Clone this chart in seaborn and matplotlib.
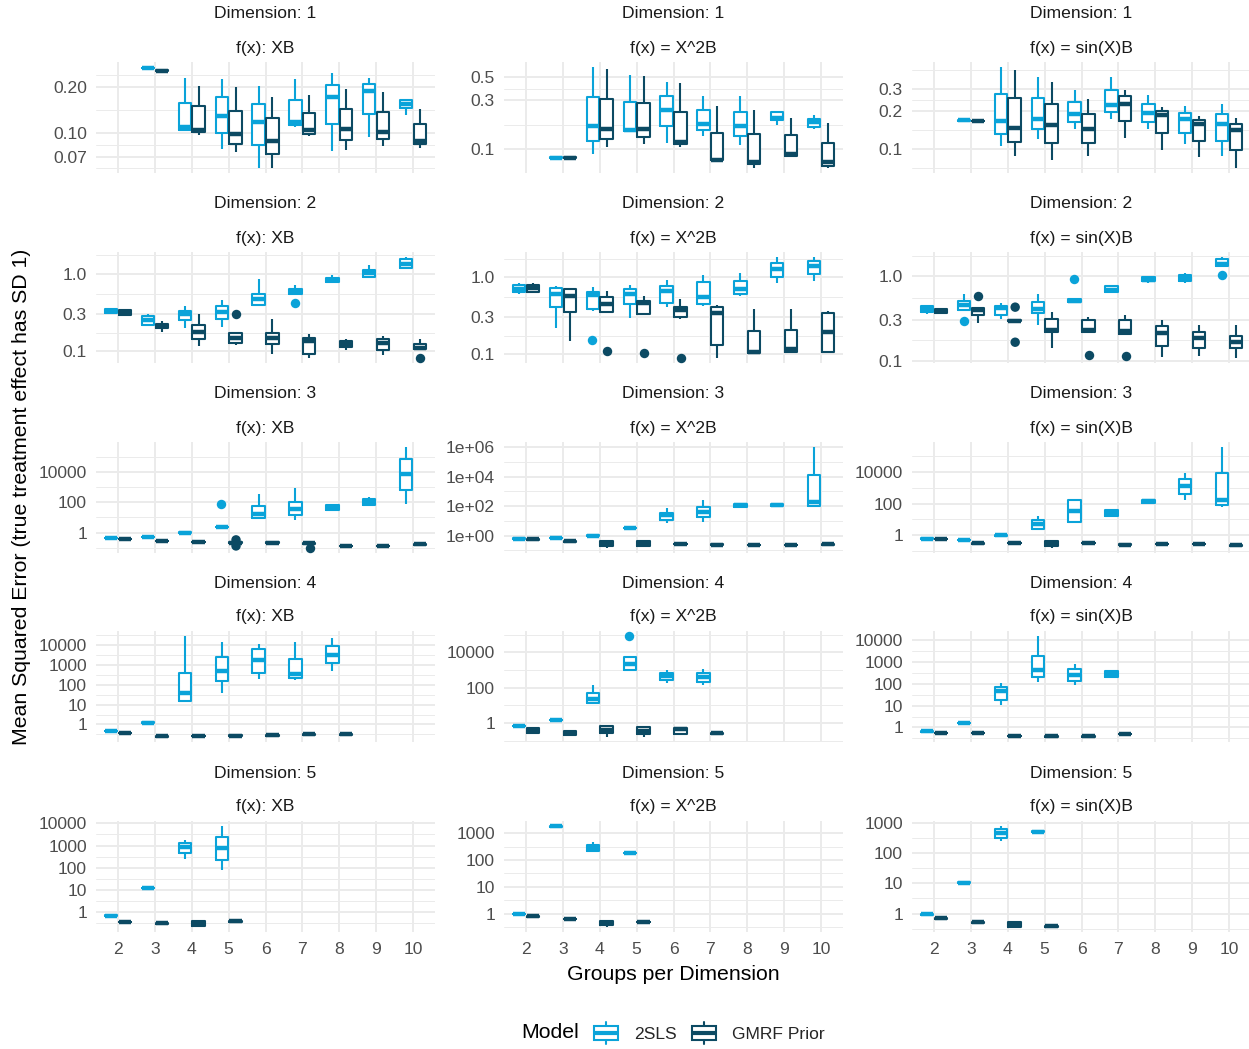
import numpy as np
import pandas as pd
import matplotlib
matplotlib.use("Agg")
import matplotlib.pyplot as plt
from matplotlib.legend_handler import HandlerBase
from matplotlib.patches import Rectangle, Patch
from matplotlib.lines import Line2D
from matplotlib.ticker import NullFormatter
import seaborn as sns

# ---------------------------------------------------------------- data
groups = [2, 3, 4, 5, 6, 7, 8, 9, 10]
group_labels = [str(g) for g in groups]
models = ["2SLS", "GMRF Prior"]
dimensions = [1, 2, 3, 4, 5]
functions = ["f(x): XB", "f(x) = X^2B", "f(x) = sin(X)B"]

# box summaries: group -> (lower whisker, lower hinge, median, upper hinge, upper whisker)
d1_xb_2sls = {3: (0.262, 0.264, 0.265, 0.266, 0.268), 4: (0.104, 0.105, 0.109, 0.156, 0.226),
              5: (0.078, 0.0995, 0.128, 0.170, 0.223), 6: (0.0592, 0.0837, 0.118, 0.154, 0.201),
              7: (0.109, 0.1126, 0.118, 0.164, 0.225), 8: (0.0762, 0.114, 0.172, 0.205, 0.244),
              9: (0.0942, 0.132, 0.1876, 0.207, 0.226), 10: (0.1306, 0.144, 0.155, 0.164, 0.165)}
d1_xb_gmrf = {3: (0.251, 0.253, 0.254, 0.255, 0.257), 4: (0.097, 0.101, 0.1045, 0.1486, 0.202),
              5: (0.0747, 0.085, 0.0985, 0.139, 0.200), 6: (0.059, 0.0732, 0.088, 0.124, 0.172),
              7: (0.0956, 0.098, 0.104, 0.135, 0.176), 8: (0.0777, 0.090, 0.1055, 0.143, 0.194),
              9: (0.082, 0.0915, 0.101, 0.1373, 0.184), 10: (0.0796, 0.085, 0.088, 0.1137, 0.142)}

d1_sq_2sls = {3: (0.082, 0.0825, 0.083, 0.0835, 0.084), 4: (0.0908, 0.1195, 0.167, 0.321, 0.626),
              5: (0.149, 0.149, 0.153, 0.285, 0.528), 6: (0.115, 0.167, 0.242, 0.331, 0.448),
              7: (0.1346, 0.153, 0.177, 0.238, 0.326), 8: (0.109, 0.1336, 0.167, 0.2297, 0.328),
              9: (0.173, 0.191, 0.2025, 0.228, 0.235), 10: (0.156, 0.1645, 0.184, 0.195, 0.213)}
d1_sq_gmrf = {3: (0.082, 0.0825, 0.083, 0.0835, 0.084), 4: (0.105, 0.127, 0.157, 0.309, 0.603),
              5: (0.1118, 0.1316, 0.156, 0.281, 0.513), 6: (0.105, 0.112, 0.118, 0.23, 0.438),
              7: (0.0783, 0.0783, 0.0794, 0.145, 0.263), 8: (0.066, 0.0727, 0.0754, 0.1397, 0.2386),
              9: (0.084, 0.0862, 0.0895, 0.1366, 0.201), 10: (0.066, 0.0685, 0.0754, 0.115, 0.18)}

d1_sin_2sls = {3: (0.168, 0.1685, 0.169, 0.1695, 0.170), 4: (0.106, 0.133, 0.166, 0.271, 0.445),
               5: (0.121, 0.1437, 0.174, 0.255, 0.371), 6: (0.1437, 0.164, 0.19, 0.236, 0.2915),
               7: (0.174, 0.197, 0.225, 0.2915, 0.371), 8: (0.1437, 0.164, 0.1945, 0.226, 0.266),
               9: (0.1095, 0.1353, 0.172, 0.1945, 0.219), 10: (0.088, 0.116, 0.159, 0.191, 0.229)}
d1_sin_gmrf = {3: (0.166, 0.1665, 0.167, 0.1675, 0.168), 4: (0.0886, 0.114, 0.148, 0.254, 0.424),
               5: (0.083, 0.112, 0.1545, 0.229, 0.339), 6: (0.0886, 0.112, 0.1455, 0.1887, 0.2475),
               7: (0.1228, 0.166, 0.229, 0.261, 0.295), 8: (0.098, 0.1345, 0.1875, 0.2, 0.2155),
               9: (0.087, 0.1156, 0.1574, 0.169, 0.183), 10: (0.0713, 0.098, 0.141, 0.1574, 0.1765)}

d2_xb_2sls = {2: (0.298, 0.31, 0.332, 0.353, 0.363), 3: (0.208, 0.215, 0.249, 0.281, 0.304),
              4: (0.2, 0.249, 0.298, 0.329, 0.382), 5: (0.204, 0.262, 0.319, 0.378, 0.452),
              6: (0.382, 0.397, 0.466, 0.541, 0.845), 7: (0.541, 0.541, 0.597, 0.627, 0.707),
              8: (0.765, 0.78, 0.836, 0.888, 0.951), 9: (0.888, 0.906, 1.02, 1.127, 1.307),
              10: (1.18, 1.196, 1.347, 1.549, 1.643)}
d2_xb_gmrf = {2: (0.289, 0.295, 0.316, 0.336, 0.342), 3: (0.176, 0.196, 0.21, 0.226, 0.242),
              4: (0.115, 0.1443, 0.176, 0.215, 0.298), 5: (0.121, 0.127, 0.147, 0.171, 0.176),
              6: (0.092, 0.1244, 0.1487, 0.171, 0.262), 7: (0.0812, 0.092, 0.133, 0.146, 0.164),
              8: (0.102, 0.1127, 0.1244, 0.1347, 0.1415), 9: (0.0879, 0.104, 0.127, 0.1415, 0.155),
              10: (0.105, 0.105, 0.1104, 0.1244, 0.1443)}

d2_sq_2sls = {2: (0.606, 0.637, 0.69, 0.778, 0.835), 3: (0.216, 0.406, 0.606, 0.726, 0.755),
              4: (0.36, 0.386, 0.576, 0.637, 0.741), 5: (0.292, 0.44, 0.606, 0.704, 0.778),
              6: (0.414, 0.463, 0.65, 0.763, 0.905), 7: (0.419, 0.44, 0.548, 0.861, 1.051),
              8: (0.565, 0.606, 0.704, 0.887, 1.139), 9: (0.835, 1.0, 1.284, 1.523, 1.82),
              10: (0.878, 1.084, 1.378, 1.6, 1.82)}
d2_sq_gmrf = {2: (0.617, 0.637, 0.72, 0.786, 0.835), 3: (0.149, 0.35, 0.565, 0.69, 0.72),
              4: (0.35, 0.35, 0.449, 0.548, 0.65), 5: (0.332, 0.332, 0.458, 0.486, 0.565),
              6: (0.286, 0.3, 0.375, 0.414, 0.511), 7: (0.0887, 0.131, 0.339, 0.414, 0.427),
              8: (0.102, 0.102, 0.105, 0.1976, 0.379), 9: (0.105, 0.105, 0.116, 0.2056, 0.379),
              10: (0.105, 0.105, 0.1917, 0.343, 0.367)}

d2_sin_2sls = {2: (0.358, 0.374, 0.41, 0.441, 0.457), 3: (0.402, 0.402, 0.449, 0.505, 0.617),
               4: (0.312, 0.342, 0.417, 0.441, 0.483), 5: (0.265, 0.364, 0.41, 0.492, 0.606),
               6: (0.483, 0.49, 0.51, 0.53, 0.538), 7: (0.635, 0.645, 0.689, 0.754, 0.775),
               8: (0.834, 0.865, 0.905, 0.973, 0.991), 9: (0.826, 0.865, 0.947, 1.018, 1.085),
               10: (1.302, 1.302, 1.4, 1.576, 1.68)}
d2_sin_gmrf = {2: (0.364, 0.367, 0.388, 0.41, 0.414), 3: (0.28, 0.342, 0.399, 0.421, 0.429),
               4: (0.293, 0.295, 0.298, 0.301, 0.303), 5: (0.14, 0.221, 0.231, 0.312, 0.374),
               6: (0.217, 0.217, 0.231, 0.304, 0.326), 7: (0.207, 0.207, 0.227, 0.306, 0.342),
               8: (0.1115, 0.148, 0.211, 0.255, 0.306), 9: (0.1146, 0.1413, 0.184, 0.217, 0.265),
               10: (0.1075, 0.1413, 0.168, 0.1943, 0.265)}

d3_xb_2sls = {2: (0.40, 0.41, 0.42, 0.43, 0.44), 3: (0.49, 0.50, 0.516, 0.53, 0.54),
              4: (0.92, 0.96, 1.0, 1.05, 1.09), 5: (2.2, 2.3, 2.37, 2.45, 2.55),
              6: (9.0, 9.5, 16.0, 53.0, 347.0), 7: (6.9, 14.8, 37.0, 97.5, 870.0),
              8: (27.3, 31.8, 45.4, 68.3, 79.5), 9: (53.0, 68.3, 102.6, 162.0, 209.0),
              10: (75.5, 674.0, 7370.0, 65700.0, 430000.0)}
d3_xb_gmrf = {2: (0.36, 0.37, 0.38, 0.39, 0.40), 3: (0.26, 0.27, 0.28, 0.29, 0.30),
              4: (0.21, 0.22, 0.229, 0.24, 0.25), 5: (0.17, 0.19, 0.206, 0.22, 0.25),
              6: (0.20, 0.21, 0.217, 0.225, 0.235), 7: (0.175, 0.185, 0.196, 0.205, 0.215),
              8: (0.12, 0.125, 0.13, 0.135, 0.14), 9: (0.12, 0.125, 0.13, 0.135, 0.14),
              10: (0.155, 0.16, 0.168, 0.175, 0.18)}

d3_sq_2sls = {2: (0.60, 0.61, 0.627, 0.64, 0.66), 3: (0.66, 0.68, 0.695, 0.71, 0.73),
              4: (0.92, 0.96, 1.0, 1.05, 1.10), 5: (3.0, 3.15, 3.3, 3.45, 3.6),
              6: (7.2, 10.9, 25.0, 34.3, 74.8), 7: (8.4, 17.4, 40.0, 87.4, 274.0),
              8: (75.0, 83.0, 113.0, 147.0, 163.0), 9: (94.0, 97.0, 119.0, 147.0, 155.0),
              10: (83.0, 100.0, 181.0, 13500.0, 1.0e6)}
d3_sq_gmrf = {2: (0.53, 0.54, 0.565, 0.59, 0.60), 3: (0.37, 0.39, 0.413, 0.43, 0.45),
              4: (0.146, 0.21, 0.287, 0.413, 0.42), 5: (0.17, 0.21, 0.318, 0.413, 0.42),
              6: (0.25, 0.26, 0.27, 0.28, 0.29), 7: (0.23, 0.24, 0.246, 0.255, 0.265),
              8: (0.22, 0.227, 0.234, 0.24, 0.25), 9: (0.22, 0.227, 0.234, 0.24, 0.25),
              10: (0.24, 0.25, 0.259, 0.27, 0.28)}

d3_sin_2sls = {2: (0.59, 0.60, 0.614, 0.63, 0.64), 3: (0.48, 0.49, 0.505, 0.52, 0.53),
               4: (0.93, 0.96, 1.0, 1.04, 1.07), 5: (2.65, 2.65, 5.24, 8.96, 16.1),
               6: (6.7, 6.7, 36.8, 167.0, 203.0), 7: (14.6, 16.1, 26.2, 38.7, 49.3),
               8: (113.0, 118.0, 140.0, 170.0, 184.0), 9: (184.0, 421.0, 1291.0, 3775.0, 9080.0),
               10: (60.0, 88.5, 180.0, 9080.0, 387000.0)}
d3_sin_gmrf = {2: (0.55, 0.57, 0.585, 0.60, 0.62), 3: (0.29, 0.30, 0.31, 0.32, 0.33),
               4: (0.30, 0.31, 0.326, 0.34, 0.35), 5: (0.157, 0.22, 0.326, 0.416, 0.42),
               6: (0.30, 0.31, 0.326, 0.34, 0.35), 7: (0.235, 0.245, 0.255, 0.265, 0.275),
               8: (0.26, 0.27, 0.28, 0.29, 0.30), 9: (0.26, 0.27, 0.28, 0.29, 0.30),
               10: (0.20, 0.215, 0.232, 0.245, 0.26)}

d4_xb_2sls = {2: (0.44, 0.46, 0.476, 0.49, 0.51), 3: (1.13, 1.17, 1.215, 1.26, 1.30),
              4: (13.1, 15.4, 40.0, 392.0, 28700.0), 5: (40.7, 160.0, 515.0, 2454.0, 14700.0),
              6: (194.0, 392.0, 1866.0, 6025.0, 11700.0), 7: (180.0, 218.0, 363.0, 2019.0, 14700.0),
              8: (515.0, 1261.0, 3352.0, 8890.0, 23600.0)}
d4_xb_gmrf = {2: (0.35, 0.36, 0.377, 0.39, 0.40), 3: (0.235, 0.245, 0.255, 0.265, 0.275),
              4: (0.245, 0.255, 0.265, 0.275, 0.285), 5: (0.255, 0.265, 0.276, 0.285, 0.295),
              6: (0.265, 0.275, 0.287, 0.30, 0.31), 7: (0.30, 0.31, 0.32, 0.33, 0.34),
              8: (0.30, 0.31, 0.32, 0.33, 0.34)}

d4_sq_2sls = {2: (0.63, 0.65, 0.679, 0.70, 0.72), 3: (1.38, 1.42, 1.47, 1.52, 1.56),
              4: (12.1, 13.8, 24.2, 50.3, 147.0), 5: (898.0, 1023.0, 2124.0, 5245.0, 5700.0),
              6: (183.0, 281.0, 432.0, 664.0, 1023.0), 7: (147.0, 208.0, 380.0, 664.0, 1114.0)}
d4_sq_gmrf = {2: (0.232, 0.263, 0.388, 0.502, 0.547), 3: (0.187, 0.203, 0.287, 0.356, 0.37),
              4: (0.171, 0.263, 0.388, 0.679, 0.74), 5: (0.164, 0.252, 0.356, 0.623, 0.679),
              6: (0.203, 0.252, 0.44, 0.547, 0.597), 7: (0.245, 0.253, 0.263, 0.273, 0.283)}

d4_sin_2sls = {2: (0.62, 0.635, 0.654, 0.67, 0.69), 3: (1.50, 1.54, 1.585, 1.63, 1.67),
               4: (11.1, 18.9, 45.0, 70.2, 111.0), 5: (124.0, 210.0, 457.0, 1892.0, 15800.0),
               6: (86.8, 133.0, 270.0, 492.0, 837.0), 7: (189.0, 210.0, 289.0, 384.0, 412.0)}
d4_sin_gmrf = {2: (0.52, 0.535, 0.548, 0.56, 0.575), 3: (0.52, 0.535, 0.548, 0.56, 0.575),
               4: (0.39, 0.40, 0.413, 0.425, 0.435), 5: (0.365, 0.375, 0.384, 0.395, 0.405),
               6: (0.365, 0.375, 0.384, 0.395, 0.405), 7: (0.465, 0.48, 0.492, 0.505, 0.52)}

d5_xb_2sls = {2: (0.65, 0.67, 0.684, 0.70, 0.72), 3: (11.4, 11.7, 12.0, 12.3, 12.6),
              4: (249.0, 481.0, 865.0, 1352.0, 1782.0), 5: (80.0, 225.0, 806.0, 2515.0, 7590.0)}
d5_xb_gmrf = {2: (0.335, 0.345, 0.355, 0.365, 0.375), 3: (0.295, 0.30, 0.31, 0.32, 0.325),
              4: (0.21, 0.243, 0.32, 0.408, 0.45), 5: (0.36, 0.37, 0.38, 0.39, 0.40)}

d5_sq_2sls = {2: (0.93, 0.95, 0.97, 0.99, 1.01), 3: (1680.0, 1720.0, 1751.0, 1790.0, 1820.0),
              4: (194.0, 212.0, 273.0, 361.0, 453.0), 5: (172.0, 175.0, 179.0, 183.0, 186.0)}
d5_sq_gmrf = {2: (0.77, 0.785, 0.80, 0.815, 0.83), 3: (0.61, 0.625, 0.637, 0.65, 0.665),
              4: (0.324, 0.373, 0.442, 0.523, 0.553), 5: (0.475, 0.485, 0.494, 0.505, 0.515)}

d5_sin_2sls = {2: (0.91, 0.93, 0.95, 0.97, 0.99), 3: (10.1, 10.35, 10.6, 10.85, 11.1),
               4: (247.0, 318.0, 443.0, 600.0, 774.0), 5: (480.0, 492.0, 503.0, 515.0, 526.0)}
d5_sin_gmrf = {2: (0.67, 0.685, 0.70, 0.715, 0.73), 3: (0.495, 0.505, 0.517, 0.53, 0.54),
               4: (0.362, 0.362, 0.433, 0.517, 0.558), 5: (0.365, 0.372, 0.38, 0.388, 0.395)}

boxes = {
    (1, functions[0]): (d1_xb_2sls, d1_xb_gmrf),
    (1, functions[1]): (d1_sq_2sls, d1_sq_gmrf),
    (1, functions[2]): (d1_sin_2sls, d1_sin_gmrf),
    (2, functions[0]): (d2_xb_2sls, d2_xb_gmrf),
    (2, functions[1]): (d2_sq_2sls, d2_sq_gmrf),
    (2, functions[2]): (d2_sin_2sls, d2_sin_gmrf),
    (3, functions[0]): (d3_xb_2sls, d3_xb_gmrf),
    (3, functions[1]): (d3_sq_2sls, d3_sq_gmrf),
    (3, functions[2]): (d3_sin_2sls, d3_sin_gmrf),
    (4, functions[0]): (d4_xb_2sls, d4_xb_gmrf),
    (4, functions[1]): (d4_sq_2sls, d4_sq_gmrf),
    (4, functions[2]): (d4_sin_2sls, d4_sin_gmrf),
    (5, functions[0]): (d5_xb_2sls, d5_xb_gmrf),
    (5, functions[1]): (d5_sq_2sls, d5_sq_gmrf),
    (5, functions[2]): (d5_sin_2sls, d5_sin_gmrf),
}

# individual outlying runs: (dimension, function, groups, model, mse)
outliers = [
    (2, functions[0], 5, "GMRF Prior", 0.298), (2, functions[0], 7, "2SLS", 0.422),
    (2, functions[0], 10, "GMRF Prior", 0.082),
    (2, functions[1], 4, "2SLS", 0.154), (2, functions[1], 4, "GMRF Prior", 0.1105),
    (2, functions[1], 5, "GMRF Prior", 0.103), (2, functions[1], 6, "GMRF Prior", 0.0887),
    (2, functions[2], 3, "2SLS", 0.293), (2, functions[2], 3, "GMRF Prior", 0.574),
    (2, functions[2], 4, "GMRF Prior", 0.429), (2, functions[2], 4, "GMRF Prior", 0.165),
    (2, functions[2], 6, "2SLS", 0.913), (2, functions[2], 6, "GMRF Prior", 0.1167),
    (2, functions[2], 7, "GMRF Prior", 0.1126), (2, functions[2], 10, "2SLS", 1.018),
    (3, functions[0], 5, "2SLS", 75.5), (3, functions[0], 5, "GMRF Prior", 0.327),
    (3, functions[0], 5, "GMRF Prior", 0.13), (3, functions[0], 7, "GMRF Prior", 0.096),
    (4, functions[1], 5, "2SLS", 82400.0),
]

# y axis breaks and their labels per panel
dec4 = ([1, 10, 100, 1000, 10000], ["1", "10", "100", "1000", "10000"])
dec3 = ([1, 10, 100, 1000], ["1", "10", "100", "1000"])
even4 = ([1, 100, 10000], ["1", "100", "10000"])
row2 = ([0.1, 0.3, 1.0], ["0.1", "0.3", "1.0"])
y_breaks = {
    (1, functions[0]): ([0.07, 0.1, 0.2], ["0.07", "0.10", "0.20"]),
    (1, functions[1]): ([0.1, 0.3, 0.5], ["0.1", "0.3", "0.5"]),
    (1, functions[2]): ([0.1, 0.2, 0.3], ["0.1", "0.2", "0.3"]),
    (2, functions[0]): row2, (2, functions[1]): row2, (2, functions[2]): row2,
    (3, functions[0]): even4,
    (3, functions[1]): ([1, 1e2, 1e4, 1e6], ["1e+00", "1e+02", "1e+04", "1e+06"]),
    (3, functions[2]): even4,
    (4, functions[0]): dec4, (4, functions[1]): even4, (4, functions[2]): dec4,
    (5, functions[0]): dec4, (5, functions[1]): dec3, (5, functions[2]): dec3,
}

palette = {"2SLS": "#0AA3D9", "GMRF Prior": "#0C4A63"}

# ---------------------------------------------------------------- helpers
def box_frame(summaries):
    rows = []
    for model, summary in zip(models, summaries):
        for g, stats in summary.items():
            for v in stats:
                rows.append({"groups": str(g), "Model": model, "mse": v})
    return pd.DataFrame(rows)


def minor_breaks(majors, lim):
    """Log-midpoints between major breaks, extended one step past each end."""
    b = np.log10(majors)
    lo, hi = np.log10(lim)
    step = b[1] - b[0]
    if lo < b[0]:
        b = np.r_[b[0] - step, b]
    if hi > b[-1]:
        b = np.r_[b, b[-1] + step]
    mids = (b[:-1] + b[1:]) / 2
    mids = mids[(mids >= lo) & (mids <= hi)]
    return 10 ** mids


class BoxKey(HandlerBase):
    def create_artists(self, legend, orig_handle, xdescent, ydescent, width, height, fontsize, trans):
        c = orig_handle.get_edgecolor()
        x0, y0 = -xdescent, -ydescent
        rect = Rectangle((x0 + 0.1 * width, y0 + 0.22 * height), 0.8 * width, 0.56 * height,
                         facecolor="white", edgecolor=c, lw=1.5, transform=trans)
        med = Line2D([x0 + 0.1 * width, x0 + 0.9 * width], [y0 + 0.5 * height] * 2,
                     color=c, lw=3, transform=trans, solid_capstyle="butt")
        w1 = Line2D([x0 + 0.5 * width] * 2, [y0 + 0.02 * height, y0 + 0.22 * height],
                    color=c, lw=1.5, transform=trans)
        w2 = Line2D([x0 + 0.5 * width] * 2, [y0 + 0.78 * height, y0 + 0.98 * height],
                    color=c, lw=1.5, transform=trans)
        return [rect, w1, w2, med]


# ---------------------------------------------------------------- figure
sns.set_theme(style="white")
plt.rcParams["font.family"] = ["Liberation Sans", "DejaVu Sans"]

W, H = 1249, 1049
fig = plt.figure(figsize=(W / 100, H / 100), dpi=100)

col_left = [96, 504, 912]
row_top = [62, 252, 442, 631, 821]
panel_w, panel_h = 339, 111
tick_size = 12.6
title_size = 15.3

for r, dim in enumerate(dimensions):
    for c, func in enumerate(functions):
        left, top = col_left[c], row_top[r]
        ax = fig.add_axes([left / W, 1 - (top + panel_h) / H, panel_w / W, panel_h / H])
        ax.set_yscale("log")

        s_2sls, s_gmrf = boxes[(dim, func)]
        df = box_frame((s_2sls, s_gmrf))
        odf = pd.DataFrame([{"groups": str(g), "Model": m, "mse": v}
                            for d, f, g, m, v in outliers if d == dim and f == func])

        common = dict(data=df, x="groups", y="mse", hue="Model", order=group_labels,
                      hue_order=models, width=0.75, gap=0.1, whis=(0, 100),
                      showfliers=False, showcaps=False, legend=False, ax=ax)
        # white box bodies, then coloured outlines on top
        sns.boxplot(**common, palette={m: "white" for m in models}, fill=True,
                    linecolor="white", linewidth=0)
        sns.boxplot(**common, palette=palette, fill=False, linewidth=1.5,
                    medianprops={"linewidth": 3.2})
        if len(odf):
            sns.stripplot(data=odf, x="groups", y="mse", hue="Model", order=group_labels,
                          hue_order=models, palette=palette, dodge=True, jitter=False,
                          size=6.8, linewidth=0, legend=False, ax=ax, zorder=4)

        vals = list(df["mse"]) + (list(odf["mse"]) if len(odf) else [])
        lo, hi = np.log10(min(vals)), np.log10(max(vals))
        pad = 0.05 * (hi - lo)
        ylim = (10 ** (lo - pad), 10 ** (hi + pad))

        majors, labels = y_breaks[(dim, func)]
        ax.set_yticks(majors, labels)
        ax.set_yticks(minor_breaks(majors, ylim), minor=True)
        ax.yaxis.set_minor_formatter(NullFormatter())
        ax.set_xticks(range(len(group_labels)), group_labels)
        ax.set_xlim(-0.6, 8.6)
        ax.set_ylim(*ylim)
        ax.set_xlabel("")
        ax.set_ylabel("")

        for s in ax.spines.values():
            s.set_visible(False)
        ax.set_axisbelow(True)
        ax.grid(True, which="major", axis="both", color="#EBEBEB", lw=1.4)
        ax.grid(True, which="minor", axis="y", color="#EBEBEB", lw=0.7)
        ax.grid(False, which="minor", axis="x")
        ax.tick_params(which="both", length=0)
        ax.tick_params(axis="y", pad=6.5, labelsize=tick_size, labelcolor="#4D4D4D")
        ax.tick_params(axis="x", pad=7.5, labelsize=tick_size, labelcolor="#4D4D4D",
                       labelbottom=(r == len(dimensions) - 1))

        # facet strip labels
        ax.annotate(f"Dimension: {dim}", xy=(0.5, 1), xycoords="axes fraction",
                    xytext=(0, 48), textcoords="offset pixels", ha="center", va="center",
                    fontsize=tick_size, color="#1A1A1A")
        ax.annotate(func, xy=(0.5, 1), xycoords="axes fraction",
                    xytext=(0, 14), textcoords="offset pixels", ha="center", va="center",
                    fontsize=tick_size, color="#1A1A1A")

fig.text(22 / W, 1 - 497 / H, "Mean Squared Error (true treatment effect has SD 1)",
         rotation=90, ha="center", va="center", fontsize=title_size, color="black")
fig.text(673 / W, 1 - 974 / H, "Groups per Dimension", ha="center", va="center",
         fontsize=title_size, color="black")

# legend
fig.text(521 / W, 1 - 1033 / H, "Model", ha="left", va="center", fontsize=title_size,
         color="black")
handles = [Patch(facecolor="white", edgecolor=palette[m], label=m) for m in models]
fig.legend(handles=handles, labels=models, handler_map={Patch: BoxKey()},
           loc="center left", bbox_to_anchor=(591 / W, 1 - 1033 / H), ncol=2,
           frameon=False, fontsize=tick_size, handlelength=1.7, handleheight=1.7,
           handletextpad=0.75, columnspacing=0.7, borderaxespad=0, borderpad=0)

fig.savefig("out.png", dpi=100)
